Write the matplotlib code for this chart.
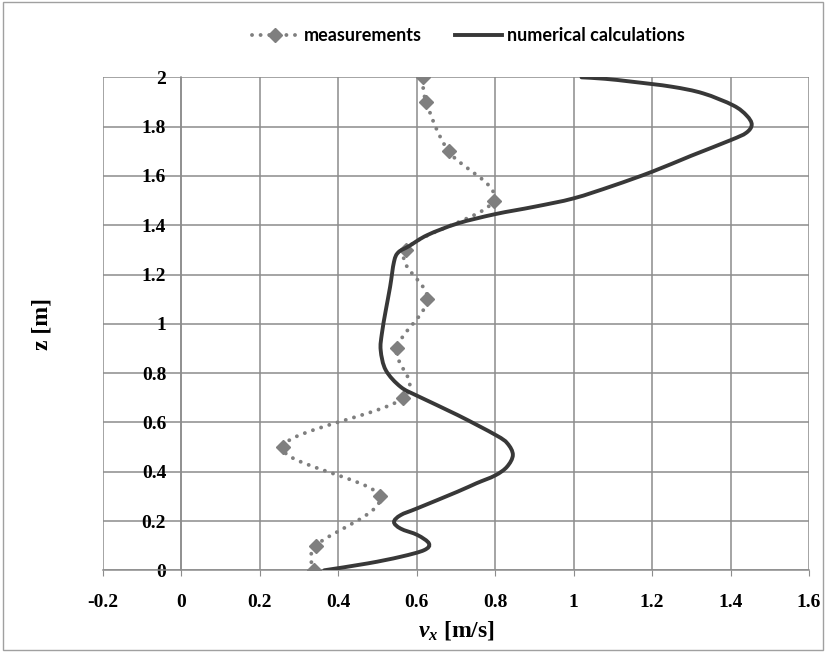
import matplotlib
matplotlib.use('Agg')
import matplotlib.pyplot as plt
from matplotlib.path import Path
from matplotlib.patches import PathPatch, Rectangle
from matplotlib.lines import Line2D

# measured velocity profile (diamonds)
meas_z = [0.0, 0.1, 0.3, 0.5, 0.7, 0.9, 1.1, 1.3, 1.5, 1.7, 1.9, 2.0]
meas_v = [0.338, 0.343, 0.506, 0.258, 0.566, 0.549, 0.627, 0.572, 0.796, 0.681, 0.624, 0.615]

# numerical profile
calc_z = [0.000, 0.028, 0.055, 0.082, 0.109, 0.143, 0.169, 0.196, 0.224, 0.252,
          0.319, 0.353, 0.385, 0.420, 0.468, 0.515, 0.549, 0.630, 0.705, 0.744,
          0.812, 0.893, 0.960, 1.055, 1.150, 1.252, 1.290, 1.315, 1.360, 1.407,
          1.445, 1.475, 1.509, 1.560, 1.617, 1.682, 1.745, 1.775, 1.808, 1.845,
          1.886, 1.935, 1.962, 1.982, 1.994, 2.000]
calc_v = [0.364, 0.475, 0.559, 0.619, 0.631, 0.602, 0.559, 0.542, 0.559, 0.602,
          0.704, 0.752, 0.800, 0.830, 0.845, 0.831, 0.801, 0.704, 0.605, 0.559,
          0.521, 0.508, 0.511, 0.521, 0.532, 0.542, 0.553, 0.580, 0.627, 0.704,
          0.800, 0.900, 1.000, 1.100, 1.200, 1.300, 1.400, 1.440, 1.454, 1.441,
          1.407, 1.330, 1.250, 1.150, 1.080, 1.020]

x_ticks = [-0.2, 0, 0.2, 0.4, 0.6, 0.8, 1.0, 1.2, 1.4, 1.6]
x_labels = ['-0.2', '0', '0.2', '0.4', '0.6', '0.8', '1', '1.2', '1.4', '1.6']
y_ticks = [0, 0.2, 0.4, 0.6, 0.8, 1.0, 1.2, 1.4, 1.6, 1.8, 2.0]
y_labels = ['0', '0.2', '0.4', '0.6', '0.8', '1', '1.2', '1.4', '1.6', '1.8', '2']

grid_col = '#8c8c8c'
meas_col = '#7f7f7f'
calc_col = '#383838'

plt.rcParams['mathtext.fontset'] = 'custom'
plt.rcParams['mathtext.rm'] = 'Liberation Serif:bold'
plt.rcParams['mathtext.bfit'] = 'Liberation Serif:italic:bold'
plt.rcParams['mathtext.it'] = 'Liberation Serif:italic:bold'


def smooth_path(xs, ys):
    # excel-like smoothed line: catmull-rom segments as cubic beziers
    pts = list(zip(xs, ys))
    n = len(pts)
    verts = [pts[0]]
    codes = [Path.MOVETO]
    for i in range(n - 1):
        p0 = pts[max(i - 1, 0)]
        p1 = pts[i]
        p2 = pts[i + 1]
        p3 = pts[min(i + 2, n - 1)]
        c1 = (p1[0] + (p2[0] - p0[0]) / 6, p1[1] + (p2[1] - p0[1]) / 6)
        c2 = (p2[0] - (p3[0] - p1[0]) / 6, p2[1] - (p3[1] - p1[1]) / 6)
        verts += [c1, c2, p2]
        codes += [Path.CURVE4] * 3
    return Path(verts, codes)


fig = plt.figure(figsize=(8.26, 6.52), dpi=100)
ax = fig.add_axes([0.1247, 0.1253, 0.8547, 0.7561])

ax.set_xlim(-0.2, 1.6)
ax.set_ylim(0, 2)
ax.set_xticks(x_ticks)
ax.set_xticklabels(x_labels)
ax.set_yticks(y_ticks)
ax.set_yticklabels(y_labels)
ax.grid(True, color=grid_col, linewidth=1.1)
ax.set_axisbelow(True)

for s in ['top', 'right']:
    ax.spines[s].set_visible(False)
ax.spines['left'].set_position(('data', 0))
ax.spines['left'].set_color(grid_col)
ax.spines['bottom'].set_color(grid_col)
ax.spines['left'].set_linewidth(1.1)
ax.spines['bottom'].set_linewidth(1.1)

for lab in ax.get_xticklabels() + ax.get_yticklabels():
    lab.set_fontfamily('Liberation Serif')
    lab.set_fontweight('bold')
    lab.set_fontsize(14)
ax.tick_params(axis='x', length=4, color=grid_col, pad=13)
ax.tick_params(axis='y', length=0, pad=11)

dots = (0, (0.01, 2.2))
meas_patch = PathPatch(smooth_path(meas_v, meas_z), fill=False, edgecolor=meas_col,
                       linewidth=2.8, linestyle=dots, capstyle='round', zorder=2)
ax.add_patch(meas_patch)
ax.plot(meas_v, meas_z, linestyle='none', marker='D', markersize=7,
        color=meas_col, zorder=3)

calc_patch = PathPatch(smooth_path(calc_v, calc_z), fill=False, edgecolor=calc_col,
                       linewidth=2.8, capstyle='round', zorder=4)
ax.add_patch(calc_patch)

ax.set_xlabel(r'$\mathbfit{v_x}$ [m/s]', fontfamily='Liberation Serif',
              fontweight='bold', fontsize=17, labelpad=6)
ax.set_ylabel('z [m]', fontfamily='Liberation Serif', fontweight='bold',
              fontsize=17)
ax.yaxis.set_label_coords(-0.071, 0.5, transform=ax.transAxes)

handles = [
    Line2D([], [], color=meas_col, linewidth=2.8, linestyle=dots,
           dash_capstyle='round', marker='D', markersize=7),
    Line2D([], [], color=calc_col, linewidth=2.8),
]
fig.legend(handles, ['measurements', 'numerical calculations'], loc='center',
           bbox_to_anchor=(0.567, 0.945), ncol=2, frameon=False,
           prop={'family': 'Lato', 'weight': 'bold', 'size': 13},
           handlelength=2.6, columnspacing=1.8, handletextpad=0.3)

fig.add_artist(Rectangle((0.004, 0.003), 0.992, 0.994, transform=fig.transFigure,
                         fill=False, edgecolor='#a0a0a0', linewidth=1))

fig.savefig('out.png', dpi=100)
